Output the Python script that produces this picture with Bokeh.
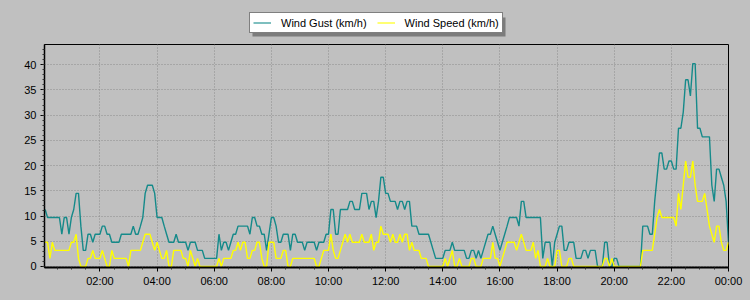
import numpy as np
from bokeh.plotting import figure
from bokeh.layouts import column
from bokeh.models import Range1d, FixedTicker, Legend, LegendItem, BoxAnnotation, ColumnDataSource
from bokeh.embed import file_html
from bokeh.resources import INLINE

# 5-minute readings from 00:05 to 24:00 (minutes since midnight)
sample_minutes = list(range(5, 1441, 5))

# Wind gust (km/h), one row per hour (12 readings each)
wind_gust = [
    11.3, 9.7, 9.7, 9.7, 9.7, 9.7, 9.7, 6.4, 9.7, 9.7, 6.4, 9.7,
    11.3, 14.5, 14.5, 8.0, 3.2, 3.2, 6.4, 6.4, 4.8, 6.4, 6.4, 6.4,
    8.0, 8.0, 6.4, 6.4, 4.8, 4.8, 4.8, 4.8, 6.4, 6.4, 6.4, 6.4,
    6.4, 8.0, 6.4, 6.4, 8.0, 9.7, 14.5, 16.1, 16.1, 16.1, 14.5, 9.7,
    9.7, 9.7, 8.0, 6.4, 4.8, 4.8, 4.8, 6.4, 4.8, 4.8, 4.8, 4.8,
    3.2, 4.8, 4.8, 4.8, 3.2, 3.2, 3.2, 1.6, 1.6, 1.6, 1.6, 1.6,
    1.6, 6.4, 3.2, 4.8, 4.8, 3.2, 4.8, 6.4, 6.4, 8.0, 8.0, 8.0,
    8.0, 8.0, 6.4, 9.7, 9.7, 8.0, 8.0, 6.4, 6.4, 3.2, 6.4, 9.7,
    9.7, 8.0, 4.8, 4.8, 6.4, 6.4, 6.4, 3.2, 6.4, 6.4, 4.8, 4.8,
    4.8, 3.2, 4.8, 4.8, 4.8, 4.8, 3.2, 4.8, 4.8, 4.8, 6.4, 6.4,
    11.3, 11.3, 6.4, 6.4, 11.3, 11.3, 11.3, 11.3, 12.9, 12.9, 11.3, 11.3,
    11.3, 14.5, 14.5, 14.5, 11.3, 12.9, 12.9, 9.7, 12.9, 17.7, 17.7, 14.5,
    14.5, 12.9, 12.9, 12.9, 11.3, 12.9, 12.9, 11.3, 12.9, 12.9, 8.0, 8.0,
    8.0, 6.4, 6.4, 6.4, 6.4, 6.4, 4.8, 3.2, 1.6, 1.6, 1.6, 1.6,
    3.2, 3.2, 3.2, 4.8, 3.2, 3.2, 3.2, 3.2, 3.2, 1.6, 1.6, 3.2,
    3.2, 1.6, 3.2, 1.6, 3.2, 4.8, 6.4, 6.4, 8.0, 6.4, 4.8, 3.2,
    4.8, 6.4, 8.0, 9.7, 9.7, 9.7, 9.7, 8.0, 12.9, 12.9, 9.7, 9.7,
    9.7, 9.7, 9.7, 9.7, 9.7, 1.6, 4.8, 4.8, 4.8, 0.0, 4.8, 6.4,
    8.0, 8.0, 3.2, 3.2, 4.8, 4.8, 4.8, 1.6, 1.6, 1.6, 3.2, 3.2,
    1.6, 3.2, 3.2, 3.2, 0.0, 0.0, 0.0, 4.8, 4.8, 0.0, 0.0, 1.6,
    1.6, 0.0, 0.0, 0.0, 0.0, 0.0, 0.0, 0.0, 0.0, 0.0, 0.0, 8.0,
    8.0, 8.0, 6.4, 6.4, 12.9, 17.7, 22.5, 22.5, 19.3, 19.3, 20.9, 20.9,
    19.3, 19.3, 27.4, 27.4, 30.6, 37.0, 37.0, 33.8, 40.2, 40.2, 27.4, 27.4,
    25.7, 25.7, 25.7, 25.7, 16.1, 12.9, 19.3, 19.3, 17.7, 16.1, 12.9, 4.8,
]

# Wind speed (km/h), one row per hour (12 readings each)
wind_speed = [
    4.8, 4.8, 1.6, 4.8, 3.2, 3.2, 3.2, 3.2, 3.2, 3.2, 3.2, 4.8,
    4.8, 6.4, 1.6, 0.0, 0.0, 0.0, 1.6, 1.6, 3.2, 1.6, 1.6, 1.6,
    3.2, 1.6, 0.0, 0.0, 3.2, 1.6, 1.6, 1.6, 1.6, 1.6, 1.6, 0.0,
    3.2, 3.2, 3.2, 3.2, 3.2, 4.8, 6.4, 6.4, 6.4, 4.8, 3.2, 4.8,
    3.2, 1.6, 1.6, 3.2, 0.0, 0.0, 3.2, 3.2, 3.2, 3.2, 1.6, 1.6,
    0.0, 3.2, 1.6, 0.0, 1.6, 0.0, 0.0, 0.0, 0.0, 0.0, 0.0, 0.0,
    0.0, 1.6, 0.0, 1.6, 1.6, 1.6, 1.6, 3.2, 3.2, 4.8, 3.2, 4.8,
    4.8, 1.6, 1.6, 3.2, 3.2, 4.8, 4.8, 1.6, 0.0, 0.0, 4.8, 4.8,
    4.8, 1.6, 1.6, 1.6, 3.2, 3.2, 0.0, 0.0, 1.6, 1.6, 1.6, 1.6,
    1.6, 1.6, 1.6, 1.6, 1.6, 1.6, 0.0, 0.0, 1.6, 3.2, 3.2, 3.2,
    6.4, 3.2, 1.6, 1.6, 3.2, 4.8, 6.4, 4.8, 6.4, 4.8, 4.8, 4.8,
    4.8, 6.4, 4.8, 4.8, 4.8, 6.4, 3.2, 4.8, 4.8, 8.0, 6.4, 6.4,
    6.4, 4.8, 6.4, 4.8, 4.8, 6.4, 4.8, 6.4, 6.4, 3.2, 4.8, 3.2,
    3.2, 3.2, 1.6, 1.6, 1.6, 0.0, 0.0, 0.0, 0.0, 0.0, 0.0, 0.0,
    1.6, 0.0, 1.6, 3.2, 0.0, 0.0, 1.6, 0.0, 0.0, 0.0, 0.0, 1.6,
    1.6, 0.0, 0.0, 0.0, 1.6, 1.6, 1.6, 1.6, 4.8, 1.6, 1.6, 0.0,
    1.6, 3.2, 4.8, 4.8, 4.8, 4.8, 3.2, 4.8, 6.4, 4.8, 3.2, 3.2,
    3.2, 4.8, 1.6, 3.2, 0.0, 0.0, 0.0, 1.6, 0.0, 0.0, 0.0, 3.2,
    3.2, 0.0, 0.0, 0.0, 1.6, 1.6, 0.0, 0.0, 0.0, 0.0, 0.0, 0.0,
    0.0, 0.0, 0.0, 0.0, 0.0, 0.0, 0.0, 1.6, 1.6, 0.0, 1.6, 0.0,
    0.0, 0.0, 0.0, 0.0, 0.0, 0.0, 0.0, 0.0, 0.0, 0.0, 0.0, 3.2,
    3.2, 3.2, 3.2, 3.2, 6.4, 9.7, 11.3, 9.7, 9.7, 9.7, 9.7, 9.7,
    9.7, 8.0, 14.5, 11.3, 16.1, 20.9, 17.7, 17.7, 20.9, 16.1, 12.9, 12.9,
    12.9, 14.5, 11.3, 8.0, 6.4, 4.8, 8.0, 8.0, 4.8, 3.2, 3.2, 4.8,
]

x_tick_hours = [2, 4, 6, 8, 10, 12, 14, 16, 18, 20, 22, 24]
x_tick_labels = ["02:00", "04:00", "06:00", "08:00", "10:00", "12:00",
                 "14:00", "16:00", "18:00", "20:00", "22:00", "00:00"]
y_ticks = [0, 5, 10, 15, 20, 25, 30, 35, 40]

series_names = ["Wind Gust (km/h)", "Wind Speed (km/h)"]
series_colors = ["#158a8a", "#ffff00"]

assert len(wind_gust) == len(sample_minutes) == len(wind_speed)

hours = [m / 60.0 for m in sample_minutes]
src = ColumnDataSource(dict(h=hours, gust=wind_gust, speed=wind_speed))

GRAY = "#c0c0c0"

# ---------------- legend strip (top 43 px); its x range is in page pixels ----------------
lg = figure(width=750, height=43, output_backend="svg", toolbar_location=None,
            x_range=Range1d(44, 728), y_range=Range1d(43, 0),
            x_axis_type=None, y_axis_type=None,
            min_border_left=44, min_border_right=22, min_border_top=0, min_border_bottom=0,
            background_fill_color=GRAY, border_fill_color=GRAY)
lg.outline_line_color = None
lg.xgrid.visible = False
lg.ygrid.visible = False
key_src = ColumnDataSource(dict(x=[np.nan], y=[np.nan]))
d1 = lg.line("x", "y", source=key_src, line_color=series_colors[0], line_width=1.1)
d2 = lg.line("x", "y", source=key_src, line_color=series_colors[1], line_width=1.1)

shadow = BoxAnnotation(left=252, right=505, top=17, bottom=36,
                       fill_color="#707070", fill_alpha=0.85, line_alpha=0)
lg.add_layout(shadow)

legend = Legend(items=[LegendItem(label=series_names[0], renderers=[d1]),
                       LegendItem(label=series_names[1], renderers=[d2])],
                orientation="horizontal", location=(205, 10),
                background_fill_color="white", background_fill_alpha=1.0,
                border_line_color="black", border_line_width=1,
                label_text_font="Liberation Sans", label_text_font_size="11px",
                label_text_color="black",
                glyph_width=18, glyph_height=13, label_height=13,
                label_standoff=10, spacing=10, padding=3, margin=0)
lg.add_layout(legend)

# ---------------- main chart ----------------
p = figure(width=750, height=257, output_backend="svg", toolbar_location=None,
           x_range=Range1d(0.06, 24.0), y_range=Range1d(-0.2, 44.0),
           min_border_left=44, min_border_right=22, min_border_top=1, min_border_bottom=33,
           background_fill_color=GRAY, border_fill_color=GRAY)
p.outline_line_color = "black"
p.outline_line_width = 1

r1 = p.line("h", "gust", source=src, line_color=series_colors[0], line_width=1.4)
r2 = p.line("h", "speed", source=src, line_color=series_colors[1], line_width=1.4)

xminor = [i * 0.5 for i in range(1, 48) if i % 4 != 0]
p.xaxis.ticker = FixedTicker(ticks=x_tick_hours, minor_ticks=xminor)
p.xaxis.major_label_overrides = {h: lab for h, lab in zip(x_tick_hours, x_tick_labels)}
p.yaxis.ticker = FixedTicker(ticks=y_ticks, minor_ticks=list(range(0, 44)))

for ax in (p.xaxis[0], p.yaxis[0]):
    ax.axis_line_color = "black"
    ax.major_tick_line_color = "black"
    ax.minor_tick_line_color = "#333333"
    ax.major_tick_in = 0
    ax.major_tick_out = 4
    ax.minor_tick_in = 0
    ax.minor_tick_out = 2
    ax.major_label_text_font = "Liberation Sans"
    ax.major_label_text_font_size = "11px"
    ax.major_label_text_color = "black"
p.xaxis.axis_line_width = 2
p.yaxis.axis_line_width = 1.5
p.xaxis.major_label_standoff = 3
p.yaxis.major_label_standoff = 4

for g in (p.xgrid[0], p.ygrid[0]):
    g.grid_line_color = "#8c8c8c"
    g.grid_line_dash = "1 2"
    g.grid_line_width = 1

layout = column(lg, p, spacing=0, styles={"background-color": GRAY})
open("out.html", "w").write(file_html(layout, INLINE))
